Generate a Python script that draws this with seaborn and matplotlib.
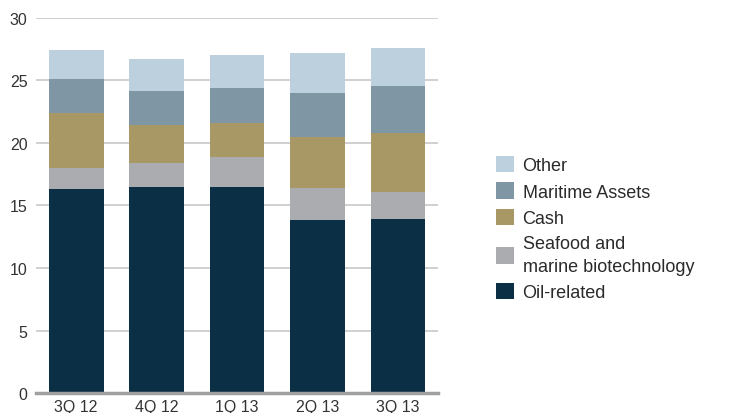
import numpy as np
import pandas as pd
import seaborn as sns
import matplotlib.pyplot as plt

quarters = ['3Q 12', '4Q 12', '1Q 13', '2Q 13', '3Q 13']
oil_related = [16.3, 16.5, 16.45, 13.8, 13.9]
seafood = [1.7, 1.9, 2.4, 2.55, 2.2]
cash = [4.4, 3.0, 2.75, 4.1, 4.7]
maritime = [2.7, 2.75, 2.75, 3.5, 3.7]
other = [2.3, 2.55, 2.7, 3.25, 3.1]

series_names = ['Oil-related', 'Seafood and\nmarine biotechnology', 'Cash', 'Maritime Assets', 'Other']
series_vals = [oil_related, seafood, cash, maritime, other]
colors = ['#0b3045', '#abacb0', '#a89866', '#7f97a4', '#bdd0dd']

sns.set_style('white')
plt.rcParams['font.family'] = ['Liberation Sans', 'DejaVu Sans']

fig = plt.figure(figsize=(7.33, 4.14), dpi=100)
ax = fig.add_axes([0.049, 0.048, 0.549, 0.907])

bottom = np.zeros(len(quarters))
for name, vals, col in zip(series_names, series_vals, colors):
    sns.barplot(x=quarters, y=vals, bottom=bottom, color=col, saturation=1,
                width=0.68, label=name, ax=ax, linewidth=0)
    bottom += np.array(vals)

ax.set_ylim(0, 30)
ax.set_xlim(-0.5, 4.5)
ax.set_yticks(range(0, 31, 5))
ax.yaxis.grid(True, color='#c8c8c8', linewidth=1.2)
ax.set_axisbelow(True)
for s in ['top', 'right', 'left']:
    ax.spines[s].set_visible(False)
ax.spines['bottom'].set_color('#a0a0a0')
ax.spines['bottom'].set_linewidth(2.5)
ax.tick_params(axis='both', length=0, labelsize=11.5, colors='#333333')
ax.tick_params(axis='y', pad=6)
ax.tick_params(axis='x', pad=4)
ax.set_xlabel('')
ax.set_ylabel('')

handles, labels = ax.get_legend_handles_labels()
if ax.get_legend() is not None:
    ax.get_legend().remove()
leg = fig.legend(handles[::-1], labels[::-1], loc='center left',
                 bbox_to_anchor=(0.655, 0.445), frameon=False, fontsize=13,
                 handlelength=1.0, handleheight=1.0, handletextpad=0.45,
                 labelspacing=0.45)
for t in leg.get_texts():
    t.set_color('#2a2a2a')
    t.set_linespacing(1.45)

fig.savefig('out.png', dpi=100)
plt.close()
